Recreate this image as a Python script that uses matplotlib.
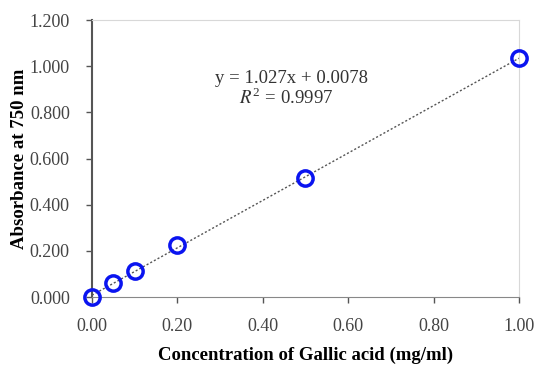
import numpy as np
import matplotlib
matplotlib.use('Agg')
import matplotlib.pyplot as plt

conc = [0.0, 0.05, 0.10, 0.20, 0.50, 1.00]
absorb = [0.000, 0.060, 0.113, 0.226, 0.517, 1.035]
slope = 1.027
intercept = 0.0078
r2 = 0.9997

plt.rcParams['font.family'] = ['Liberation Serif', 'DejaVu Serif']
plt.rcParams['mathtext.fontset'] = 'stix'

fig = plt.figure(figsize=(5.36, 3.66), dpi=100)
ax = fig.add_axes([0.1716, 0.1885, 0.7966, 0.7565])

xfit = np.array([0.0, 1.0])
ax.plot(xfit, slope * xfit + intercept, linestyle=(0, (1.5, 1.5)), color='#555555', lw=1.0, zorder=1)
ax.plot(conc, absorb, 'o', mfc='none', mec='#0a14f0', ms=11, mew=2.5, zorder=3, clip_on=False)

ax.set_xlim(0, 1.0)
ax.set_ylim(0, 1.2)
ax.set_xticks(np.arange(0, 1.01, 0.2))
ax.set_yticks(np.arange(0, 1.21, 0.2))
ax.xaxis.set_major_formatter(plt.FormatStrFormatter('%.2f'))
ax.yaxis.set_major_formatter(plt.FormatStrFormatter('%.3f'))

for s in ['top', 'right']:
    ax.spines[s].set_color('#d8d8d8')
ax.spines['left'].set_color('#555555')
ax.spines['bottom'].set_color('#888888')
ax.spines['left'].set_linewidth(1.5)
ax.tick_params(axis='both', labelsize=13, colors='#555555', labelcolor='#444444', length=4, width=1)
ax.tick_params(axis='x', pad=11)
ax.tick_params(axis='y', pad=12)

ax.set_xlabel('Concentration of Gallic acid (mg/ml)', fontsize=13.5, fontweight='bold')
ax.set_ylabel('Absorbance at 750 nm', fontsize=13.5, fontweight='bold')
ax.xaxis.set_label_coords(0.5, -0.18)
ax.yaxis.set_label_coords(-0.15, 0.5)

ax.text(0.468, 0.79, 'y = 1.027x + 0.0078', transform=ax.transAxes, ha='center', va='center', fontsize=13.5, color='#333333')
ax.text(0.455, 0.72, '$R^{\\mathregular{2}}$ = %.4f' % r2, transform=ax.transAxes, ha='center', va='center', fontsize=13.5, color='#333333')

fig.savefig('out.png', dpi=100)
